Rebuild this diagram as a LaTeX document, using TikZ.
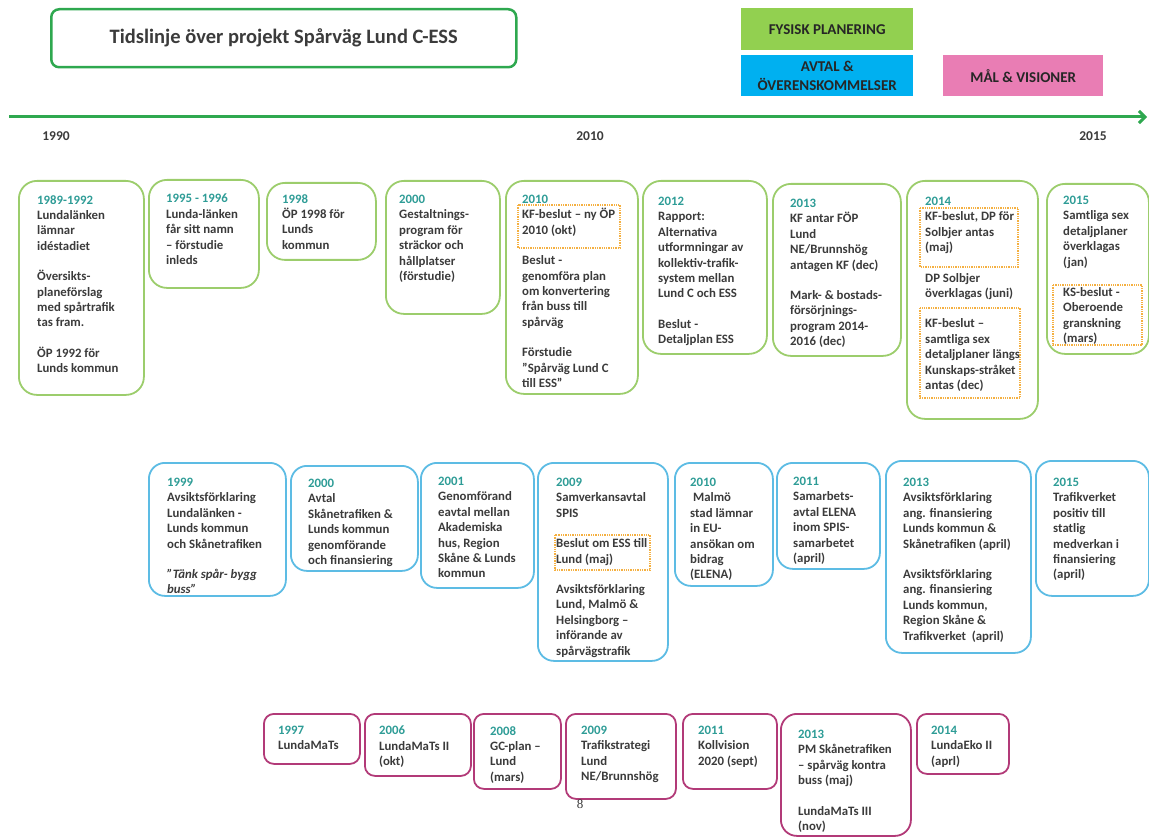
\documentclass[tikz,border=0pt]{standalone}
\usepackage{fontspec}
\setmainfont{Carlito}
\newfontfamily\pgfont{Liberation Serif}
\usetikzlibrary{arrows.meta}

\definecolor{ink}{HTML}{3B3B3B}
\definecolor{yr}{HTML}{2E9C96}
\definecolor{grn}{HTML}{9CCD6C}
\definecolor{blu}{HTML}{5DBCE4}
\definecolor{pnk}{HTML}{B23A78}
\definecolor{org}{HTML}{F5B041}
\definecolor{tgrn}{HTML}{2EA84F}
\definecolor{lgrn}{HTML}{92D050}
\definecolor{lblu}{HTML}{00B0F0}
\definecolor{lpnk}{HTML}{E97DB4}

\begin{document}
\begin{tikzpicture}[x=1pt,y=-1pt,
		frame/.style={draw, anchor=north west, line width=1.8pt},
		gbox/.style={frame, draw=grn, rounded corners=18pt},
		bbox/.style={frame, draw=blu, rounded corners=16pt},
		pbox/.style={frame, draw=pnk, rounded corners=10pt},
		txt/.style={anchor=north west, inner sep=0pt, align=left, text=ink, font=\fontsize{12.8}{15.4}\selectfont\bfseries},
		hl/.style={draw=org, densely dotted, line width=1.3pt},
		leg/.style={anchor=north west, minimum width=172, inner sep=0pt, align=center, text=black!85, font=\fontsize{15}{18.5}\selectfont\bfseries},
		yrlab/.style={text=ink, font=\fontsize{13.5}{15}\selectfont\bfseries}]
		\useasboundingbox (0,0) rectangle (1149,837);
		
		% title and legend
		\node[draw=tgrn, line width=2.5pt, rounded corners=8pt, anchor=north west, minimum width=465, minimum height=58, text=ink, font=\fontsize{20.5}{24}\selectfont\bfseries] (ttl) at (50,8) {Tidslinje över projekt Spårväg Lund C-ESS};
		\node[leg, fill=lgrn, minimum height=42] (fys) at (741,8) {FYSISK PLANERING};
		\node[leg, fill=lblu, minimum height=41] (avt) at (741,55) {AVTAL \&\\ÖVERENSKOMMELSER};
		\node[leg, fill=lpnk, minimum width=160, minimum height=41] (mal) at (943,55) {MÅL \& VISIONER};
		
		% time axis
		\coordinate (t0) at (9,117);
		\coordinate (t1) at (1147,117);
		\draw[tgrn, line width=3pt, -{Straight Barb[length=6pt,width=12pt]}] (t0) -- (t1);
		\node[yrlab] (y1990) at (56,136) {1990};
		\node[yrlab] (y2010) at (590,136) {2010};
		\node[yrlab] (y2015) at (1093,136) {2015};
		
		% fysisk planering
		\node[gbox, minimum width=125, minimum height=214] (g1) at (18,180) {};
		\node[txt] (g1t) at ([shift={(19,15)}]g1.north west) {\textcolor{yr}{1989-1992}\\Lundalänken\\lämnar\\idéstadiet\\[15pt]Översikts-\\planeförslag\\med spårtrafik\\tas fram.\\[15pt]ÖP 1992 för\\Lunds kommun};
		\node[gbox, minimum width=110, minimum height=108] (g2) at (148,179) {};
		\node[txt] (g2t) at ([shift={(18,15)}]g2.north west) {\textcolor{yr}{1995 - 1996}\\Lunda-länken\\får sitt namn\\-- förstudie\\inleds};
		\node[gbox, minimum width=109, minimum height=77] (g3) at (266,182) {};
		\node[txt] (g3t) at ([shift={(16,12)}]g3.north west) {\textcolor{yr}{1998}\\ÖP 1998 för\\Lunds\\kommun};
		\node[gbox, minimum width=114, minimum height=133] (g4) at (385,180) {};
		\node[txt] (g4t) at ([shift={(14,15)}]g4.north west) {\textcolor{yr}{2000}\\Gestaltnings-\\program för\\sträckor och\\hållplatser\\(förstudie)};
		\node[gbox, minimum width=132, minimum height=213] (g5) at (505,180) {};
		\node[txt] (g5t) at ([shift={(17,15)}]g5.north west) {\textcolor{yr}{2010}\\KF-beslut -- ny ÖP\\2010 (okt)\\[15pt]Beslut -\\genomföra plan\\om konvertering\\från buss till\\spårväg\\[15pt]Förstudie\\”Spårväg Lund C\\till ESS”};
		\draw[hl] (518,205) rectangle (620,248);
		\node[gbox, minimum width=124, minimum height=173] (g6) at (642,180) {};
		\node[txt] (g6t) at ([shift={(16,17)}]g6.north west) {\textcolor{yr}{2012}\\Rapport:\\Alternativa\\utformningar av\\kollektiv-trafik-\\system mellan\\Lund C och ESS\\[15pt]Beslut -\\Detaljplan ESS};
		\node[gbox, minimum width=128, minimum height=172] (g7) at (772,183) {};
		\node[txt] (g7t) at ([shift={(18,16)}]g7.north west) {\textcolor{yr}{2013}\\KF antar FÖP\\Lund\\NE/Brunnshög\\antagen KF (dec)\\[15pt]Mark- \& bostads-\\försörjnings-\\program 2014-\\2016 (dec)};
		\node[gbox, minimum width=131, minimum height=238] (g8) at (906,180) {};
		\node[txt] (g8t) at ([shift={(19,17)}]g8.north west) {\textcolor{yr}{2014}\\KF-beslut, DP för\\Solbjer antas\\(maj)\\[15pt]DP Solbjer\\överklagas (juni)\\[15pt]KF-beslut --\\samtliga sex\\detaljplaner längs\\Kunskaps-stråket\\antas (dec)};
		\draw[hl] (920,208) rectangle (1018,267);
		\draw[hl] (920,308) rectangle (1020,398);
		\node[gbox, minimum width=102, minimum height=170] (g9) at (1046,183) {};
		\node[txt] (g9t) at ([shift={(17,13)}]g9.north west) {\textcolor{yr}{2015}\\Samtliga sex\\detaljplaner\\överklagas\\(jan)\\[15pt]KS-beslut -\\Oberoende\\granskning\\(mars)};
		\draw[hl] (1053,285) rectangle (1142,345);
		
		% avtal och overenskommelser
		\node[bbox, minimum width=137, minimum height=133] (b1) at (148,462) {};
		\node[txt] (b1t) at ([shift={(19,16)}]b1.north west) {\textcolor{yr}{1999}\\Avsiktsförklaring\\Lundalänken -\\Lunds kommun\\och Skånetrafiken\\[15pt]\textit{”Tänk spår- bygg}\\\textit{buss”}};
		\node[bbox, minimum width=127, minimum height=105] (b2) at (290,465) {};
		\node[txt] (b2t) at ([shift={(18,14)}]b2.north west) {\textcolor{yr}{2000}\\Avtal\\Skånetrafiken \&\\Lunds kommun\\genomförande\\och finansiering};
		\node[bbox, minimum width=113, minimum height=125] (b3) at (420,462) {};
		\node[txt] (b3t) at ([shift={(18,15)}]b3.north west) {\textcolor{yr}{2001}\\Genomförand\\eavtal mellan\\Akademiska\\hus, Region\\Skåne \& Lunds\\kommun};
		\node[bbox, minimum width=130, minimum height=198] (b4) at (537,462) {};
		\node[txt] (b4t) at ([shift={(19,16)}]b4.north west) {\textcolor{yr}{2009}\\Samverkansavtal\\SPIS\\[15pt]Beslut om ESS till\\Lund (maj)\\[15pt]Avsiktsförklaring\\Lund, Malmö \&\\Helsingborg --\\införande av\\spårvägstrafik};
		\draw[hl] (555,535) rectangle (650,570);
		\node[bbox, minimum width=98, minimum height=123] (b5) at (674,462) {};
		\node[txt] (b5t) at ([shift={(16,16)}]b5.north west) {\textcolor{yr}{2010}\\\ Malmö\\stad lämnar\\in EU-\\ansökan om\\bidrag\\(ELENA)};
		\node[bbox, minimum width=103, minimum height=106] (b6) at (776,462) {};
		\node[txt] (b6t) at ([shift={(17,15)}]b6.north west) {\textcolor{yr}{2011}\\Samarbets-\\avtal ELENA\\inom SPIS-\\samarbetet\\(april)};
		\node[bbox, minimum width=145, minimum height=192] (b7) at (885,460) {};
		\node[txt] (b7t) at ([shift={(18,18)}]b7.north west) {\textcolor{yr}{2013}\\Avsiktsförklaring\\ang. finansiering\\Lunds kommun \&\\Skånetrafiken (april)\\[15pt]Avsiktsförklaring\\ang. finansiering\\Lunds kommun,\\Region Skåne \&\\Trafikverket\ \ (april)};
		\node[bbox, minimum width=113, minimum height=135] (b8) at (1035,460) {};
		\node[txt] (b8t) at ([shift={(18,18)}]b8.north west) {\textcolor{yr}{2015}\\Trafikverket\\positiv till\\statlig\\medverkan i\\finansiering\\(april)};
		
		% mal och visioner
		\node[pbox, minimum width=96, minimum height=50] (p1) at (263,713) {};
		\node[txt] (p1t) at ([shift={(15,13)}]p1.north west) {\textcolor{yr}{1997}\\LundaMaTs};
		\node[pbox, minimum width=106, minimum height=62] (p2) at (364,713) {};
		\node[txt] (p2t) at ([shift={(15,13)}]p2.north west) {\textcolor{yr}{2006}\\LundaMaTs II\\(okt)};
		\node[pbox, minimum width=87, minimum height=75] (p3) at (473,713) {};
		\node[txt] (p3t) at ([shift={(17,13)}]p3.north west) {\textcolor{yr}{2008}\\GC-plan --\\Lund\\(mars)};
		\node[pbox, minimum width=110, minimum height=85] (p4) at (565,713) {};
		\node[txt] (p4t) at ([shift={(16,13)}]p4.north west) {\textcolor{yr}{2009}\\Trafikstrategi\\Lund\\NE/Brunnshög};
		\node[pbox, minimum width=94, minimum height=75] (p5) at (682,713) {};
		\node[txt] (p5t) at ([shift={(16,13)}]p5.north west) {\textcolor{yr}{2011}\\Kollvision\\2020 (sept)};
		\node[pbox, rounded corners=16pt, minimum width=130, minimum height=122] (p6) at (780,713) {};
		\node[txt] (p6t) at ([shift={(18,17)}]p6.north west) {\textcolor{yr}{2013}\\PM Skånetrafiken\\-- spårväg kontra\\buss (maj)\\[15pt]LundaMaTs III\\(nov)};
		\node[pbox, minimum width=92, minimum height=60] (p7) at (916,713) {};
		\node[txt] (p7t) at ([shift={(15,13)}]p7.north west) {\textcolor{yr}{2014}\\LundaEko II\\(aprl)};
		
		\node[text=black!80, font=\pgfont\fontsize{13}{15}\selectfont] (pg) at (580,804) {8};
\end{tikzpicture}
\end{document}
